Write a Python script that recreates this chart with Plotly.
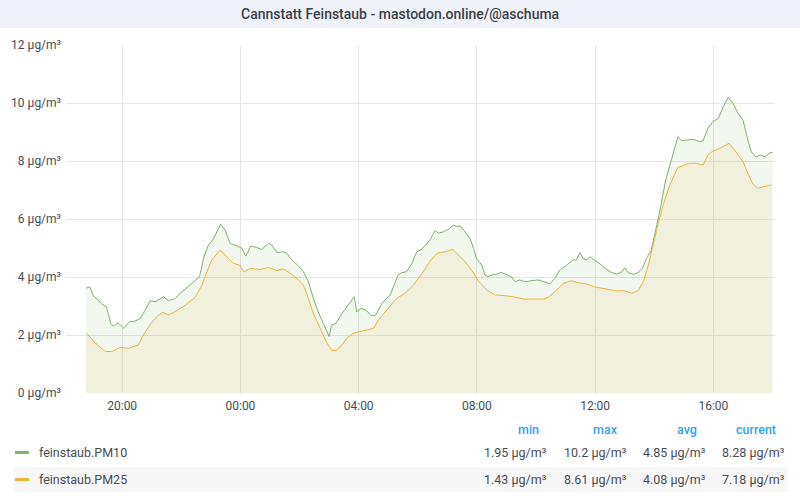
import plotly.graph_objects as go
from datetime import datetime, timedelta

# ---------------- data ----------------
pm10_times = ["18:47","18:54","19:02","19:09","19:19","19:28","19:37","19:42","19:52","20:03",
"20:15","20:26","20:37","20:47","20:57","21:07","21:24","21:34","21:48","21:58",
"22:11","22:28","22:37","22:46","22:55","23:04","23:12","23:20","23:29","23:39",
"23:53","00:03","00:11","00:21","00:33","00:43","00:57","01:04","01:14","01:27",
"01:34","01:44","01:58","02:08","02:18","02:28","02:38","02:50","03:00","03:05",
"03:14","03:24","03:36","03:51","03:56","04:05","04:15","04:26","04:35","04:47",
"05:04","05:20","05:27","05:37","05:48","05:58","06:08","06:18","06:25","06:35",
"06:42","06:52","07:02","07:12","07:19","07:26","07:36","07:46","07:53","07:59",
"08:10","08:16","08:23","08:30","08:40","08:50","09:02","09:10","09:17","09:27",
"09:37","09:51","10:04","10:15","10:28","10:38","10:48","11:02","11:15","11:22",
"11:29","11:36","11:43","11:49","11:59","12:10","12:16","12:30","12:43","12:54",
"13:00","13:07","13:17","13:27","13:36","13:44","13:54","14:03","14:13","14:23",
"14:35","14:42","14:48","14:55","15:05","15:19","15:32","15:39","15:49","15:59",
"16:10","16:20","16:30","16:40","16:50","17:00","17:10","17:17","17:27","17:35",
"17:45","17:55","18:00"]
pm10_values = [3.61,3.67,3.34,3.24,3.06,2.98,2.40,2.31,2.42,2.23,
2.46,2.48,2.57,2.86,3.18,3.15,3.32,3.18,3.26,3.44,
3.63,3.86,4.01,4.70,5.10,5.28,5.56,5.82,5.62,5.16,
5.07,4.99,4.72,5.07,5.02,4.95,5.16,5.10,4.84,4.87,
4.82,4.59,4.38,4.18,3.84,3.26,2.80,2.34,1.95,2.34,
2.40,2.69,2.98,3.32,2.80,2.92,2.86,2.66,2.69,3.09,
3.38,4.07,4.15,4.18,4.47,4.87,4.95,5.16,5.28,5.60,
5.51,5.56,5.64,5.79,5.74,5.77,5.56,5.33,4.99,4.64,
4.41,4.07,4.01,4.07,4.10,4.16,4.07,4.01,3.84,3.90,
3.84,3.87,3.90,3.84,3.76,3.95,4.24,4.41,4.59,4.59,
4.84,4.64,4.59,4.70,4.59,4.45,4.36,4.18,4.10,4.18,
4.32,4.15,4.09,4.15,4.30,4.64,4.93,5.62,6.42,7.34,
8.09,8.49,8.84,8.70,8.72,8.75,8.67,8.70,9.13,9.36,
9.47,9.87,10.2,9.99,9.64,9.41,8.72,8.32,8.13,8.21,
8.15,8.29,8.28]

pm25_times = ["18:47","19:05","19:26","19:39","19:56","20:13","20:33","20:43","20:57","21:10",
"21:23","21:34","21:51","22:08","22:28","22:42","22:52","23:02","23:19","23:32",
"23:46","23:58","00:07","00:20","00:40","00:57","01:14","01:27","01:41","01:58",
"02:08","02:18","02:28","02:42","02:54","03:05","03:14","03:26","03:36","03:49",
"04:03","04:16","04:30","04:40","04:57","05:17","05:34","05:51","06:08","06:15",
"06:25","06:39","06:55","07:11","07:22","07:36","07:49","08:03","08:20","08:37",
"08:53","09:14","09:34","09:54","10:15","10:25","10:42","10:55","11:12","11:26",
"11:43","11:59","12:06","12:26","12:43","12:57","13:14","13:27","13:38","13:48",
"13:58","14:08","14:18","14:30","14:42","14:48","14:58","15:12","15:26","15:39",
"15:49","15:59","16:13","16:26","16:32","16:40","16:50","17:00","17:10","17:20",
"17:30","17:40","17:51","17:58"]
pm25_values = [2.08,1.73,1.43,1.43,1.57,1.54,1.66,2.00,2.37,2.63,
2.78,2.69,2.84,3.03,3.30,3.72,4.18,4.59,4.93,4.70,
4.47,4.41,4.18,4.30,4.26,4.33,4.22,4.28,4.13,3.90,
3.72,3.26,2.75,2.23,1.77,1.48,1.46,1.66,1.89,2.06,
2.11,2.17,2.23,2.52,2.86,3.26,3.44,3.72,4.10,4.30,
4.55,4.82,4.87,4.95,4.76,4.53,4.24,3.87,3.55,3.38,
3.36,3.32,3.24,3.23,3.24,3.30,3.55,3.78,3.87,3.80,
3.76,3.66,3.64,3.59,3.52,3.53,3.44,3.53,3.84,4.41,
5.16,5.85,6.48,7.11,7.57,7.78,7.84,7.92,7.92,7.86,
8.21,8.34,8.44,8.55,8.61,8.44,8.21,7.98,7.57,7.21,
7.06,7.11,7.14,7.18]

series_names = ["feinstaub.PM10", "feinstaub.PM25"]
stat_headers = ["min", "max", "avg", "current"]
pm10_stats = ["1.95 µg/m³", "10.2 µg/m³", "4.85 µg/m³", "8.28 µg/m³"]
pm25_stats = ["1.43 µg/m³", "8.61 µg/m³", "4.08 µg/m³", "7.18 µg/m³"]
y_ticks = [0, 2, 4, 6, 8, 10, 12]
title_text = "Cannstatt Feinstaub - mastodon.online/@aschuma"

# ---------------- helpers ----------------
DAY1 = datetime(2024, 1, 1)

def to_dt(hhmm):
    h, m = map(int, hhmm.split(":"))
    d = DAY1 if (h * 60 + m) >= 18 * 60 + 30 else DAY1 + timedelta(days=1)
    return d.replace(hour=h, minute=m)

W, H = 800, 500
L, R, T, B = 66, 775, 45, 393  # plot area in pixels

def px(x):
    return (x - L) / (R - L)

def py(y):
    return (B - y) / (B - T)

GREEN = "#7eb26d"
YELLOW = "#eab839"
TEXT = "#464c54"
FONT = "Roboto"

fig = go.Figure()
fig.add_trace(go.Scatter(
    x=[to_dt(t) for t in pm10_times], y=pm10_values, mode="lines",
    line=dict(color=GREEN, width=1), fill="tozeroy",
    fillcolor="rgba(126,178,109,0.1)", name=series_names[0], hoverinfo="skip"))
fig.add_trace(go.Scatter(
    x=[to_dt(t) for t in pm25_times], y=pm25_values, mode="lines",
    line=dict(color=YELLOW, width=1), fill="tozeroy",
    fillcolor="rgba(234,184,57,0.1)", name=series_names[1], hoverinfo="skip"))

shapes = []
# title bar
shapes.append(dict(type="rect", xref="paper", yref="paper", x0=px(0), x1=px(W),
                   y0=py(28), y1=py(0), fillcolor="#eff2f8", line=dict(width=0), layer="below"))
# second legend row background
shapes.append(dict(type="rect", xref="paper", yref="paper", x0=px(13), x1=px(788),
                   y0=py(492), y1=py(467), fillcolor="#f7f7f8", line=dict(width=0), layer="below"))
# legend colour markers
for yy, col in [(452.5, GREEN), (479.5, YELLOW)]:
    shapes.append(dict(type="rect", xref="paper", yref="paper", x0=px(15), x1=px(29),
                       y0=py(yy + 1.5), y1=py(yy - 1.5), fillcolor=col, line=dict(width=0)))

annotations = [dict(text=title_text, x=px(400), y=py(14), xref="paper", yref="paper",
                    xanchor="center", yanchor="middle", showarrow=False,
                    font=dict(family=FONT, size=14, color="#3c4048", weight=500))]

header_x = [541, 620, 699, 778]
value_x = [549, 629, 708, 787]
for hx, h in zip(header_x, stat_headers):
    annotations.append(dict(text=h, x=px(hx), y=py(429), xref="paper", yref="paper",
                            xanchor="right", yanchor="middle", showarrow=False,
                            font=dict(family=FONT, size=12.5, color="#33a2e5", weight=500)))
for yy, name, stats in [(452.5, series_names[0], pm10_stats), (479.5, series_names[1], pm25_stats)]:
    annotations.append(dict(text=name, x=px(37), y=py(yy), xref="paper", yref="paper",
                            xanchor="left", yanchor="middle", showarrow=False,
                            font=dict(family=FONT, size=12.5, color=TEXT)))
    for vx, s in zip(value_x, stats):
        annotations.append(dict(text=s, x=px(vx), y=py(yy), xref="paper", yref="paper",
                                xanchor="right", yanchor="middle", showarrow=False,
                                font=dict(family=FONT, size=12.5, color=TEXT)))

fig.update_layout(
    width=W, height=H, autosize=False,
    margin=dict(l=L, r=W - R, t=T, b=H - B, pad=0),
    paper_bgcolor="white", plot_bgcolor="white",
    showlegend=False, shapes=shapes, annotations=annotations,
    font=dict(family=FONT, size=12, color=TEXT),
    xaxis=dict(range=[datetime(2024, 1, 1, 18, 6), datetime(2024, 1, 2, 18, 5)],
               tickmode="linear", tick0=datetime(2024, 1, 1, 0, 0), dtick=4 * 3600 * 1000,
               tickformat="%H:%M", showgrid=True, gridcolor="#e6e6e6", gridwidth=1,
               zeroline=False, showline=False, ticks="", ticklen=0, ticklabelstandoff=4,
               tickfont=dict(family=FONT, size=12, color=TEXT)),
    yaxis=dict(range=[0, 12], tickmode="array", tickvals=y_ticks,
               ticktext=[f"{v} µg/m³" for v in y_ticks],
               showgrid=True, gridcolor="#e6e6e6", gridwidth=1, zeroline=False,
               showline=False, ticks="", ticklen=0, ticklabelstandoff=4,
               tickfont=dict(family=FONT, size=12, color=TEXT)),
)

fig.write_html("out.html", config={"displayModeBar": False, "staticPlot": True})

# remove the browser's default body margin so the figure sits at the window's origin
with open("out.html", encoding="utf-8") as f:
    html = f.read()
html = html.replace("<head>", "<head><style>html,body{margin:0;padding:0;overflow:hidden}</style>", 1)
with open("out.html", "w", encoding="utf-8") as f:
    f.write(html)
